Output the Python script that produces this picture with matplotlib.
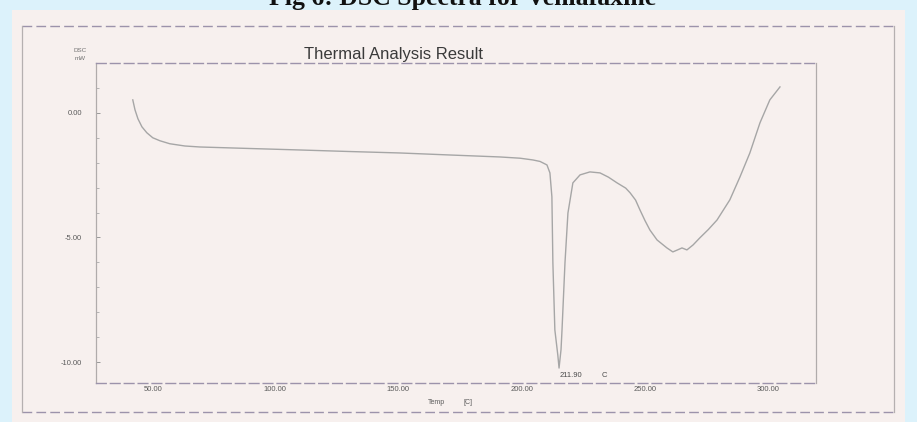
import matplotlib.pyplot as plt
from matplotlib.patches import Rectangle
from matplotlib.lines import Line2D
from matplotlib.ticker import FixedLocator, MultipleLocator

# DSC curve (temperature in C, heat flow in mW)
temp = [37.8, 38.7, 39.9, 41.5, 43.5, 45.9, 48.8, 52.8, 58.9, 65.0,
        85.0, 105.5, 125.0, 146.0, 166.0, 186.5, 194.7, 199.9, 202.8, 205.6,
        206.8, 207.6, 208.0, 208.8, 210.0, 210.5, 211.3, 211.7, 212.9, 214.1,
        216.1, 219.0, 223.0, 227.1, 230.5, 234.0, 237.5, 239.3, 241.5, 243.3,
        245.3, 247.3, 250.2, 254.2, 256.6, 258.5, 260.3, 262.3, 264.8, 267.5,
        271.0, 274.5, 279.7, 283.8, 287.8, 291.9, 295.9, 300.0]
dsc = [0.52, 0.12, -0.24, -0.56, -0.80, -1.00, -1.12, -1.24, -1.33, -1.37,
       -1.43, -1.49, -1.55, -1.61, -1.69, -1.77, -1.82, -1.89, -1.95, -2.09,
       -2.41, -3.37, -6.02, -8.71, -9.72, -10.24, -9.50, -8.71, -6.02, -4.02,
       -2.81, -2.49, -2.37, -2.41, -2.58, -2.81, -3.02, -3.21, -3.50, -3.90,
       -4.32, -4.70, -5.10, -5.42, -5.58, -5.50, -5.42, -5.50, -5.30, -5.02,
       -4.68, -4.30, -3.49, -2.57, -1.61, -0.40, 0.52, 1.04]

x_ticks = [50, 100, 150, 200, 250, 300]
x_labels = ["50.00", "100.00", "150.00", "200.00", "250.00", "300.00"]
y_ticks = [0, -5, -10]
y_labels = ["0.00", "-5.00", "-10.00"]
peak_temp = 211.90

W, H = 917, 422
plt.rcParams["font.family"] = ["Liberation Sans", "DejaVu Sans"]
fig = plt.figure(figsize=(W / 100, H / 100), dpi=100, facecolor="#dcf2fb")

def fx(px):
    return px / W

def fy(py):
    return 1 - py / H

# paper sheet
fig.patches.append(Rectangle((fx(12), 0), fx(905) - fx(12), fy(10),
                             transform=fig.transFigure, facecolor="#f7f0ee",
                             edgecolor="none", zorder=-5))

# outer frame of the printout
dash = dict(color="#9c93ab", lw=1.0, linestyle=(0, (7, 3)), transform=fig.transFigure)
solid = dict(color="#b5b0b0", lw=0.9, transform=fig.transFigure)
fig.lines.append(Line2D([fx(22), fx(894)], [fy(26), fy(26)], **dash))
fig.lines.append(Line2D([fx(22), fx(894)], [fy(412), fy(412)], **dash))
fig.lines.append(Line2D([fx(22), fx(22)], [fy(26), fy(412)], **solid))
fig.lines.append(Line2D([fx(894), fx(894)], [fy(26), fy(412)], **solid))

# caption, cut at the top of the image as in the scan
fig.text(fx(463), fy(5), "Fig 6: DSC Spectra for Venlafaxine", ha="center",
         va="baseline", fontsize=18.5, fontweight="bold", color="#111111",
         family=["Liberation Serif", "DejaVu Serif"])

ax = fig.add_axes([fx(96), fy(383), fx(816) - fx(96), fy(63) - fy(383)])
ax.set_zorder(2)
ax.set_facecolor("none")
ax.plot(temp, dsc, color="#a6a6a6", lw=1.0)

ax.set_xlim(22.9, 314.6)
ax.set_ylim(-10.84, 2.0)

ax.xaxis.set_major_locator(FixedLocator(x_ticks))
ax.set_xticklabels(x_labels, ha="right")
ax.yaxis.set_major_locator(FixedLocator(y_ticks))
ax.set_yticklabels(y_labels)
ax.yaxis.set_minor_locator(MultipleLocator(1))
ax.tick_params(axis="x", length=0, pad=2, labelsize=5.5, labelcolor="#5a5a5a")
ax.tick_params(axis="y", which="major", direction="in", length=3, width=0.7,
               color="#999999", pad=10, labelsize=5.5, labelcolor="#5a5a5a")
ax.tick_params(axis="y", which="minor", direction="in", length=2, width=0.6,
               color="#aaaaaa")

for side in ["top", "bottom"]:
    ax.spines[side].set_color("#9c93ab")
    ax.spines[side].set_linestyle((0, (7, 3)))
    ax.spines[side].set_linewidth(1.0)
for side in ["left", "right"]:
    ax.spines[side].set_color("#b0abab")
    ax.spines[side].set_linewidth(0.9)

# peak annotation
ax.text(peak_temp - 1.0, -10.52, f"{peak_temp:.2f}", fontsize=5.5, color="#4a4a4a",
        ha="left", va="center")
ax.text(227.9, -10.52, "C", fontsize=5.5, color="#4a4a4a", ha="left", va="center")

fig.text(fx(393), fy(55), "Thermal Analysis Result", ha="center", va="center",
         fontsize=12, color="#3a3a3a")
fig.text(fx(80), fy(50), "DSC", ha="center", va="center", fontsize=4.5, color="#707070")
fig.text(fx(80), fy(58), "mW", ha="center", va="center", fontsize=4.5, color="#707070")
fig.text(fx(428), fy(402), "Temp", ha="left", va="center", fontsize=5, color="#5a5a5a")
fig.text(fx(463), fy(402), "[C]", ha="left", va="center", fontsize=5, color="#5a5a5a")

fig.savefig("out.png", dpi=100, facecolor=fig.get_facecolor())
